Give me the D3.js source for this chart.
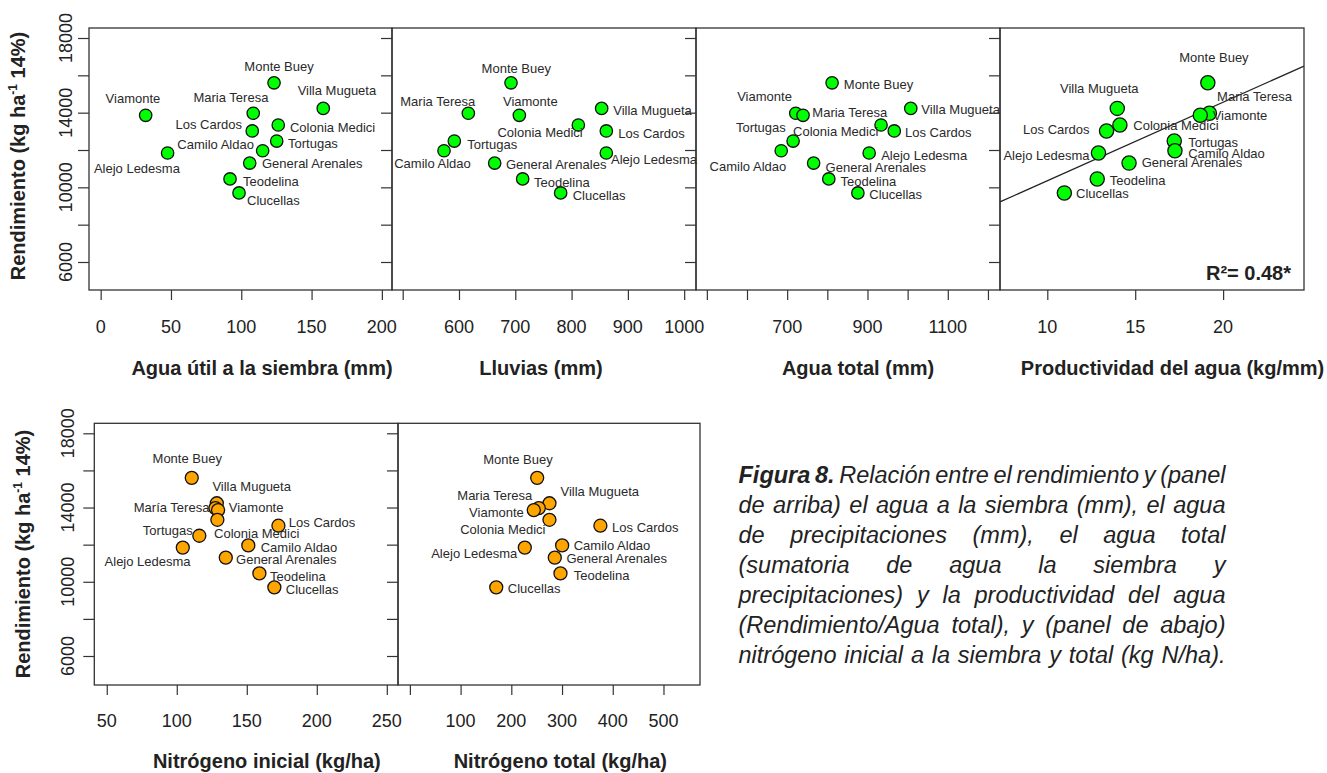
<!DOCTYPE html>
<html><head><meta charset="utf-8">
<script src="https://cdn.jsdelivr.net/npm/d3@7"></script>
<style>
body{margin:0;background:#fff}
svg{display:block}
text{font-family:"Liberation Sans",Arial,Helvetica,sans-serif}
</style>
</head><body>
<svg id="c" width="1327" height="773"></svg>
<script>
// ---------------- DATA ----------------
const sites = ["Monte Buey","Villa Mugueta","Maria Teresa","Viamonte","Colonia Medici","Los Cardos",
               "Tortugas","Camilo Aldao","Alejo Ledesma","General Arenales","Teodelina","Clucellas"];
const rendimiento   = [15600, 14230, 13970, 13860, 13340, 13020, 12480, 11960, 11840, 11300, 10450, 9700];
const aguaUtil      = [123.3, 158.3, 108.5, 32.0, 126.3, 107.8, 125.2, 115.2, 47.6, 106.0, 92.0, 98.4];
const lluvias       = [692.4, 853.4, 616.6, 707.2, 812.0, 861.7, 591.7, 573.4, 861.7, 663.4, 713.1, 780.6];
const aguaTotal     = [811.9, 1007.8, 721.4, 739.5, 933.8, 966.7, 714.8, 685.2, 904.2, 765.9, 803.7, 876.1];
const productividad = [19.13, 13.98, 19.22, 18.70, 14.13, 13.37, 17.22, 17.26, 12.91, 14.65, 12.84, 10.97];
const nInicial      = [110.7, 128.6, 127.6, 129.5, 129.0, 172.6, 116.1, 151.1, 104.3, 135.0, 159.0, 169.7];
const nTotal        = [251.0, 275.2, 254.2, 244.3, 275.2, 375.6, null, 300.2, 226.6, 285.7, 296.9, 170.3];
// names as printed in the lower-left panel
const sitesB1 = sites.map(s => s === "Maria Teresa" ? "María Teresa" : s);

const regIntercept = 6140, regSlope = 421;
const r2Text = "R²= 0.48*";

const yTicks = [6000, 8000, 10000, 12000, 14000, 16000, 18000];
const yTickLabels = [6000, 10000, 14000, 18000];

const xTicksP1 = [0, 50, 100, 150, 200],           xLabP1 = [0, 50, 100, 150, 200];
const xTicksP2 = [500, 600, 700, 800, 900, 1000],  xLabP2 = [600, 700, 800, 900, 1000];
const xTicksP3 = [500, 600, 700, 800, 900, 1000, 1100, 1200], xLabP3 = [700, 900, 1100];
const xTicksP4 = [10, 15, 20],                     xLabP4 = [10, 15, 20];
const xTicksB1 = [50, 100, 150, 200, 250],         xLabB1 = [50, 100, 150, 200, 250];
const xTicksB2 = [0, 100, 200, 300, 400, 500],     xLabB2 = [100, 200, 300, 400, 500];

const yTitle = ["Rendimiento (kg ha", "-1", " 14%)"];

const captionBold = "Figura 8.";
const captionLines = [
  "Figura 8. Relación entre el rendimiento y (panel",
  "de arriba) el agua a la siembra (mm), el agua",
  "de precipitaciones (mm), el agua total",
  "(sumatoria de agua la siembra y",
  "precipitaciones) y la productividad del agua",
  "(Rendimiento/Agua total), y (panel de abajo)",
  "nitrógeno inicial a la siembra y total (kg N/ha)."
];

// ---------------- LAYOUT (label offsets in px: dx, dy, anchor) ----------------
const L = {
  p1: [[5,-11.7,"m"],[13.7,-13.3,"m"],[-22.3,-11.3,"m"],[-12.7,-12.3,"m"],[11.7,7,"s"],[-10.3,-2,"e"],
       [11.3,7,"s"],[-8.7,-1.7,"e"],[-30.7,20,"m"],[12.3,5,"s"],[13,7,"s"],[8,12,"s"]],
  p2: [[5.3,-9.4,"m"],[11.6,6.7,"s"],[-30.6,-7.6,"m"],[11,-9.3,"m"],[4.4,11.7,"e"],[12,6.7,"s"],
       [13,8.3,"s"],[-11.5,17.6,"m"],[4.7,11,"s"],[11.3,6.3,"s"],[11.3,7.7,"s"],[12,7,"s"]],
  p3: [[11.7,6.6,"s"],[10.6,5.7,"s"],[16.6,3.4,"s"],[-38.5,-14.3,"m"],[-2.7,10.7,"e"],[10.7,5.7,"s"],
       [-7.3,-8.7,"e"],[-33.3,20,"m"],[12,7,"s"],[12,9.3,"s"],[11.7,7,"s"],[11.4,6.3,"s"]],
  p4: [[6.1,-21,"m"],[-18,-15.6,"m"],[7.7,-12.3,"s"],[12.4,4.7,"s"],[13.4,5,"s"],[-17,3,"e"],
       [14,5.5,"s"],[13.3,7.4,"s"],[-9,7,"e"],[12.7,4.2,"s"],[12.6,6,"s"],[11.7,5.3,"s"]],
  b1: [[-4.5,-14.5,"m"],[-4.4,-12.3,"s"],[-6,4.2,"e"],[10.7,2.2,"s"],[-3.3,17.9,"s"],[10.4,1,"s"],
       [-6.6,-0.8,"e"],[12.4,6.3,"s"],[-35.2,18.1,"m"],[10.3,6.2,"s"],[10.7,7.3,"s"],[11.4,6.6,"s"]],
  b2: [[-19.2,-13.5,"m"],[11,-7.3,"s"],[-6.6,-8.1,"e"],[-10,6.6,"e"],[-4,14.5,"e"],[11.7,6,"s"],
       [0,0,"s"],[11.6,4.6,"s"],[-7.6,10.1,"e"],[11.7,5.6,"s"],[13.3,6.6,"s"],[11.6,5.9,"s"]]
};
const anchorMap = {s:"start", m:"middle", e:"end"};

const panels = [
  {id:"p1", xs:aguaUtil, names:sites, x0:89, x1:392, dom:[-8.3,207.2], ticks:xTicksP1, labs:xLabP1,
   row:0, yLabels:true, fill:"#00ff00", r:6.2, title:"Agua útil a la siembra (mm)", tx:262},
  {id:"p2", xs:lluvias, names:sites, x0:392, x1:696, dom:[481,1021], ticks:xTicksP2, labs:xLabP2,
   row:0, yLabels:false, fill:"#00ff00", r:6.2, title:"Lluvias (mm)", tx:541},
  {id:"p3", xs:aguaTotal, names:sites, x0:696, x1:1000, dom:[473,1230], ticks:xTicksP3, labs:xLabP3,
   row:0, yLabels:false, fill:"#00ff00", r:6.2, title:"Agua total (mm)", tx:858},
  {id:"p4", xs:productividad, names:sites, x0:1000, x1:1304, dom:[7.31,24.6], ticks:xTicksP4, labs:xLabP4,
   row:0, yLabels:false, fill:"#00ff00", r:7.1, title:"Productividad del agua (kg/mm)", tx:1172.5, reg:true},
  {id:"b1", xs:nInicial, names:sitesB1, x0:94.3, x1:398, dom:[41.1,258], ticks:xTicksB1, labs:xLabB1,
   row:1, yLabels:true, fill:"#ffa500", r:6.5, title:"Nitrógeno inicial (kg/ha)", tx:266.8},
  {id:"b2", xs:nTotal, names:sites, x0:398, x1:700, dom:[-23.4,572], ticks:xTicksB2, labs:xLabB2,
   row:1, yLabels:false, fill:"#ffa500", r:6.5, title:"Nitrógeno total (kg/ha)", tx:560.3}
];
const rows = [
  {top:28, bottom:290, dom:[4500,18536], tickLabBase:333.3, titleBase:375, yTitleX:25, yTitleY:156, yLabX:72},
  {top:423.3, bottom:685, dom:[4437,18539], tickLabBase:727, titleBase:768, yTitleX:30, yTitleY:554, yLabX:74}
];

// ---------------- DRAW ----------------
const svg = d3.select("#c");
const ink = "#222", frameCol = "#333";

panels.forEach(p => {
  const row = rows[p.row];
  const x = d3.scaleLinear().domain(p.dom).range([p.x0, p.x1]);
  const y = d3.scaleLinear().domain(row.dom).range([row.bottom, row.top]);
  const g = svg.append("g");

  // y ticks (outward left)
  const ya = d3.axisLeft(y).tickValues(yTicks).tickSize(11).tickFormat("");
  const yg = g.append("g").attr("transform", `translate(${p.x0},0)`).call(ya);
  yg.select(".domain").remove();
  yg.selectAll("line").attr("stroke", frameCol).attr("stroke-width", 1.2);

  if (p.yLabels) {
    g.selectAll(".ylab").data(yTickLabels).enter().append("text")
      .attr("transform", d => `translate(${row.yLabX},${y(d)}) rotate(-90)`)
      .attr("text-anchor", "middle").attr("font-size", 18).attr("fill", ink)
      .text(d => d);
    const t = g.append("text")
      .attr("transform", `translate(${row.yTitleX},${row.yTitleY}) rotate(-90)`)
      .attr("text-anchor", "middle").attr("font-size", 20).attr("font-weight", "bold").attr("fill", ink);
    t.append("tspan").text(yTitle[0]);
    t.append("tspan").attr("font-size", 12).attr("dy", -8).text(yTitle[1]);
    t.append("tspan").attr("dy", 8).text(yTitle[2]);
  }

  // x ticks (outward down)
  const xa = d3.axisBottom(x).tickValues(p.ticks).tickSize(10).tickFormat("");
  const xg = g.append("g").attr("transform", `translate(0,${row.bottom})`).call(xa);
  xg.select(".domain").remove();
  xg.selectAll("line").attr("stroke", frameCol).attr("stroke-width", 1.2);
  g.selectAll(".xlab").data(p.labs).enter().append("text")
    .attr("x", d => x(d)).attr("y", row.tickLabBase)
    .attr("text-anchor", "middle").attr("font-size", 18).attr("fill", ink)
    .text(d => d);

  // x title
  g.append("text").attr("x", p.tx).attr("y", row.titleBase)
    .attr("text-anchor", "middle").attr("font-size", 20).attr("font-weight", "bold").attr("fill", ink)
    .text(p.title);

  // regression line
  if (p.reg) {
    g.append("line")
      .attr("x1", x(p.dom[0])).attr("y1", y(regIntercept + regSlope * p.dom[0]))
      .attr("x2", x(p.dom[1])).attr("y2", y(regIntercept + regSlope * p.dom[1]))
      .attr("stroke", "#222").attr("stroke-width", 1.3);
    g.append("text").attr("x", 1291).attr("y", 279.5).attr("text-anchor", "end")
      .attr("font-size", 20).attr("font-weight", "bold").attr("fill", ink).text(r2Text);
  }

  const pts = sites.map((s, i) => ({i, name: p.names[i], xv: p.xs[i], yv: rendimiento[i]}))
                   .filter(d => d.xv !== null);
  g.selectAll(".pt").data(pts).enter().append("circle")
    .attr("cx", d => x(d.xv)).attr("cy", d => y(d.yv)).attr("r", p.r)
    .attr("fill", p.fill).attr("stroke", "#111").attr("stroke-width", 1.3);
  g.selectAll(".lb").data(pts).enter().append("text")
    .attr("x", d => x(d.xv) + L[p.id][d.i][0])
    .attr("y", d => y(d.yv) + L[p.id][d.i][1])
    .attr("text-anchor", d => anchorMap[L[p.id][d.i][2]])
    .attr("font-size", 13).attr("fill", "#2a2a2a")
    .text(d => d.name);

  // frame
  g.append("rect").attr("x", p.x0).attr("y", row.top)
    .attr("width", p.x1 - p.x0).attr("height", row.bottom - row.top)
    .attr("fill", "none").attr("stroke", frameCol).attr("stroke-width", 1.3);
});

// ---------------- CAPTION (justified) ----------------
const capX = 738.5, capW = 487, capY0 = 482.5, capLH = 30;
const boldWords = captionBold.split(" ");
captionLines.forEach((line, li) => {
  const words = line.split(" ");
  const t = svg.append("text").attr("y", capY0 + li * capLH)
    .attr("font-size", 23.5).attr("font-style", "italic").attr("fill", ink);
  const spans = words.map((w, wi) => {
    const bold = li === 0 && wi < boldWords.length;
    return t.append("tspan").attr("x", capX).attr("font-weight", bold ? "bold" : "normal").text(w);
  });
  const widths = spans.map(s => s.node().getComputedTextLength());
  const total = d3.sum(widths);
  const gap = words.length > 1 ? (capW - total) / (words.length - 1) : 0;
  let cx = capX;
  spans.forEach((s, k) => { s.attr("x", cx); cx += widths[k] + gap; });
});
</script>
</body></html>
